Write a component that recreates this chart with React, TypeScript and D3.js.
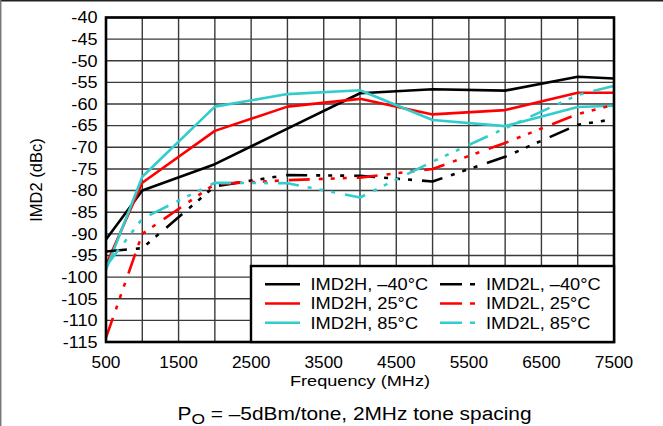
import React from "react";
import * as d3 from "d3";

const freqs = [500, 1000, 2000, 3000, 4000, 5000, 6000, 7000, 7500];
const imd2hM40 = [-91.3, -80, -73.9, -65.7, -57.5, -56.6, -56.9, -53.7, -54.1];
const imd2h25 = [-97.2, -78.2, -66.2, -60.6, -58.8, -62.4, -61.4, -57.4, -57.4];
const imd2h85 = [-98.3, -76.8, -60.6, -57.7, -56.8, -63.7, -65.1, -60.7, -60.4];
const imd2lM40 = [-94.1, -93.3, -79, -76.4, -76.6, -77.9, -72.2, -64.8, -63.5];
const imd2l25 = [-114, -90, -78.5, -77.6, -77.0, -75.0, -69, -62.3, -60.2];
const imd2l85 = [-97.5, -86.5, -78.2, -78.3, -81.6, -73.3, -65.6, -57.9, -55.8];

const yTicks = [-40, -45, -50, -55, -60, -65, -70, -75, -80, -85, -90, -95, -100, -105, -110, -115];
const xLabelTicks = [500, 1500, 2500, 3500, 4500, 5500, 6500, 7500];
const xGridTicks = d3.range(500, 7501, 500);

const seriesNames = [
  "IMD2H, \u201340\u00b0C",
  "IMD2H, 25\u00b0C",
  "IMD2H, 85\u00b0C",
  "IMD2L, \u201340\u00b0C",
  "IMD2L, 25\u00b0C",
  "IMD2L, 85\u00b0C",
];

const BLACK = "#000000";
const RED = "#FF0000";
const CYAN = "#33CCCC";
const DASH = "21,9,4,8,4,8,4,10";

const series = [
  { name: seriesNames[0], values: imd2hM40, color: BLACK, dash: null },
  { name: seriesNames[1], values: imd2h25, color: RED, dash: null },
  { name: seriesNames[2], values: imd2h85, color: CYAN, dash: null },
  { name: seriesNames[3], values: imd2lM40, color: BLACK, dash: DASH },
  { name: seriesNames[4], values: imd2l25, color: RED, dash: DASH },
  { name: seriesNames[5], values: imd2l85, color: CYAN, dash: DASH },
];

const W = 663;
const H = 426;
const L = 106, R = 614, TOP = 17.5, BOT = 342;
const FONT = "'Liberation Sans', Arial, Helvetica, sans-serif";

function T({ x, y, anchor = "start", size = 16, sx = 1.13, children, fill = "#000" }: any) {
  return (
    <text
      transform={`translate(${x},${y}) scale(${sx},1)`}
      textAnchor={anchor}
      fontSize={size}
      fontFamily={FONT}
      fill={fill}
    >
      {children}
    </text>
  );
}

export default function App() {
  const x = d3.scaleLinear().domain([500, 7500]).range([L, R]);
  const y = d3.scaleLinear().domain([-40, -115]).range([TOP, BOT]);
  const line = d3
    .line<[number, number]>()
    .x((d) => x(d[0]))
    .y((d) => y(d[1]));

  const legendRows = [284.3, 303.5, 322.8];
  const legendCols = [{ lx: 265, tx: 310.5 }, { lx: 440, tx: 486 }];

  return (
    <svg
      width={W}
      height={H}
      style={{ position: "absolute", left: 0, top: 0, display: "block", background: "#fff" }}
    >
      <rect x={0} y={0} width={W} height={H} fill="#fff" />
      {/* outer frame */}
      <line x1={0} x2={W} y1={0.7} y2={0.7} stroke="#222" strokeWidth={1.5} />
      <line x1={0.7} x2={0.7} y1={0} y2={H} stroke="#777" strokeWidth={1.5} />

      {/* grid */}
      {yTicks.map((t) => (
        <line key={"h" + t} x1={L} x2={R} y1={y(t)} y2={y(t)} stroke="#3a3a3a" strokeWidth={1.4} />
      ))}
      {xGridTicks.map((t) => (
        <line key={"v" + t} x1={x(t)} x2={x(t)} y1={TOP} y2={BOT} stroke="#3a3a3a" strokeWidth={1.4} />
      ))}

      {/* series */}
      {series.map((s, i) => (
        <path
          key={i}
          d={line(freqs.map((f, j) => [f, s.values[j]]) as [number, number][]) || ""}
          fill="none"
          stroke={s.color}
          strokeWidth={2.6}
          strokeDasharray={s.dash || undefined}
          strokeLinejoin="round"
        />
      ))}

      {/* plot frame */}
      <rect x={L} y={TOP} width={R - L} height={BOT - TOP} fill="none" stroke="#000" strokeWidth={2.6} />

      {/* legend */}
      <rect x={251} y={266} width={R - 251} height={BOT - 266} fill="#fff" stroke="#000" strokeWidth={2.4} />
      {series.map((s, i) => {
        const col = legendCols[Math.floor(i / 3)];
        const ry = legendRows[i % 3];
        return (
          <g key={"lg" + i}>
            <line
              x1={col.lx}
              x2={col.lx + 35}
              y1={ry}
              y2={ry}
              stroke={s.color}
              strokeWidth={2.6}
              strokeDasharray={s.dash ? "22,8,5,40" : undefined}
            />
            <T x={col.tx} y={ry + 5.7} size={16} sx={1.14}>
              {s.name}
            </T>
          </g>
        );
      })}

      {/* y tick labels */}
      {yTicks.map((t) => (
        <T key={"yl" + t} x={97.5} y={y(t) + 5.8} anchor="end" size={16} sx={1.13}>
          {String(t)}
        </T>
      ))}

      {/* x tick labels */}
      {xLabelTicks.map((t) => (
        <T key={"xl" + t} x={x(t)} y={367.5} anchor="middle" size={16} sx={1.08}>
          {String(t)}
        </T>
      ))}

      {/* axis titles */}
      <T x={360} y={385.5} anchor="middle" size={15.5} sx={1.17}>
        Frequency (MHz)
      </T>
      <text
        transform={`translate(41.5,180) rotate(-90)`}
        textAnchor="middle"
        fontSize={16.5}
        fontFamily={FONT}
      >
        IMD2 (dBc)
      </text>

      {/* subtitle */}
      <text
        transform={`translate(354.5,420) scale(1.16,1)`}
        textAnchor="middle"
        fontSize={18}
        fontFamily={FONT}
      >
        P
        <tspan fontSize={15} dy={4}>O</tspan>
        <tspan dy={-4}> = {"\u2013"}5dBm/tone, 2MHz tone spacing</tspan>
      </text>
    </svg>
  );
}
